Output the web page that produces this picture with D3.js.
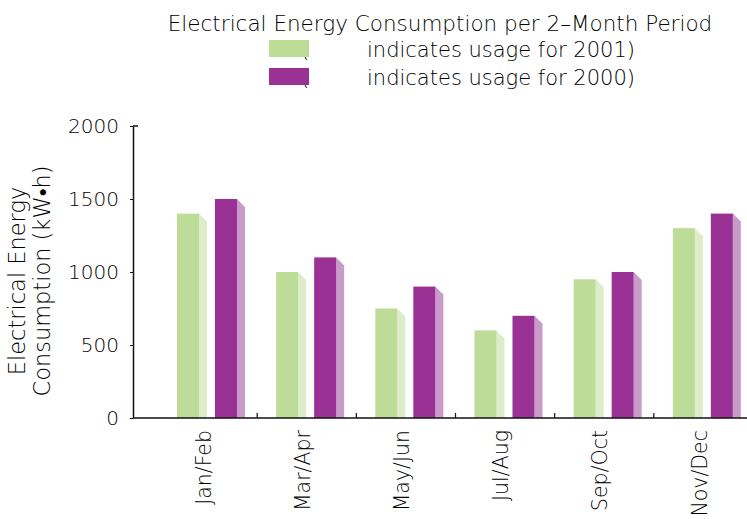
<!DOCTYPE html>
<html>
<head>
<meta charset="utf-8">
<script src="https://cdn.jsdelivr.net/npm/d3@7"></script>
<style>
  body { margin: 0; background: #fff; }
  text { font-family: "DejaVu Sans", sans-serif; font-weight: 200; fill: #000; }
</style>
</head>
<body>
<div id="chart"></div>
<script>
//// data
const periods = ['Jan/Feb', 'Mar/Apr', 'May/Jun', 'Jul/Aug', 'Sep/Oct', 'Nov/Dec'];
const years = ['2001', '2000'];
const usage2001 = [1400, 1000, 750, 600, 950, 1300];
const usage2000 = [1500, 1100, 900, 700, 1000, 1400];
const yTicks = [0, 500, 1000, 1500, 2000];

const colors = { '2001': '#bcdc97', '2000': '#9a3195' };
const sideColors = { '2001': '#ddedcb', '2000': '#c99bc9' };

const w = 747, h = 519;
const depth = 8;

const svg = d3.select('#chart').append('svg')
  .attr('width', w)
  .attr('height', h);

//// scales
const x0 = d3.scaleBand().domain(periods).range([158, 753]);
const x1 = d3.scaleBand().domain(years).range([19, 87]).paddingInner(0.21);
const y = d3.scaleLinear().domain([0, 2000]).range([418, 126]);

const rows = periods.map((p, i) => ({ period: p, '2001': usage2001[i], '2000': usage2000[i] }));

//// bars: front face plus a lighter side face
const groups = svg.selectAll('g.period')
  .data(rows)
  .enter().append('g')
  .attr('class', 'period')
  .attr('transform', d => `translate(${x0(d.period)},0)`);

const bars = groups.selectAll('g.bar')
  .data(d => years.map(yr => ({ year: yr, value: d[yr] })))
  .enter().append('g')
  .attr('class', 'bar');

const frontW = () => x1.bandwidth() - depth;

bars.append('polygon')
  .attr('points', d => {
    const xr = x1(d.year) + frontW();
    const yt = y(d.value), yb = y(0);
    return [[xr, yt], [xr + depth, yt + depth], [xr + depth, yb], [xr, yb]].join(' ');
  })
  .attr('fill', d => sideColors[d.year]);

bars.append('rect')
  .attr('x', d => x1(d.year))
  .attr('y', d => y(d.value))
  .attr('width', frontW())
  .attr('height', d => y(0) - y(d.value))
  .attr('fill', d => colors[d.year]);

//// y axis
const yAxis = svg.append('g')
  .attr('transform', 'translate(133,0)')
  .call(d3.axisLeft(y).tickValues(yTicks).tickFormat(d3.format('d'))
    .tickSizeInner(3).tickSizeOuter(0).tickPadding(11));
yAxis.select('.domain').attr('stroke', '#111').attr('stroke-width', 1.5);
yAxis.selectAll('.tick line').attr('stroke', '#111');
yAxis.selectAll('.tick text')
  .style('font-family', '"DejaVu Sans", sans-serif')
  .style('font-weight', 200)
  .style('font-size', '20px')
  .attr('fill', '#000');
svg.append('line')
  .attr('x1', 133).attr('x2', 138)
  .attr('y1', y(2000)).attr('y2', y(2000))
  .attr('stroke', '#111').attr('stroke-width', 1.5);

//// x axis
svg.append('line')
  .attr('x1', 133).attr('x2', w)
  .attr('y1', y(0)).attr('y2', y(0))
  .attr('stroke', '#111').attr('stroke-width', 1.5);
svg.selectAll('line.xtick')
  .data(periods.slice(1))
  .enter().append('line')
  .attr('class', 'xtick')
  .attr('x1', d => x0(d)).attr('x2', d => x0(d))
  .attr('y1', y(0)).attr('y2', y(0) - 5)
  .attr('stroke', '#111').attr('stroke-width', 1.2);
svg.selectAll('text.xlabel')
  .data(periods)
  .enter().append('text')
  .attr('class', 'xlabel')
  .attr('transform', d => `translate(${x0(d) + x0.bandwidth() / 2 - 4},430) rotate(-90)`)
  .attr('text-anchor', 'end')
  .attr('dy', '0.35em')
  .style('font-size', '20.5px')
  .text(d => d);

//// y title
const yTitle = svg.append('text')
  .attr('transform', 'translate(0,281) rotate(-90)')
  .attr('text-anchor', 'middle')
  .style('font-size', '22.5px');
yTitle.append('tspan').attr('x', 0).attr('y', 25).text('Electrical Energy');
yTitle.append('tspan').attr('x', 0).attr('y', 50).text('Consumption (kW•h)');

//// title and legend
svg.append('text')
  .attr('x', 440).attr('y', 31)
  .attr('text-anchor', 'middle')
  .style('font-size', '21.5px')
  .text('Electrical Energy Consumption per 2–Month Period');

const legend = svg.selectAll('g.legend')
  .data(years)
  .enter().append('g')
  .attr('class', 'legend')
  .attr('transform', (d, i) => `translate(0,${57 + i * 28})`);
legend.append('text')
  .attr('x', 301).attr('y', 0)
  .style('font-size', '21px')
  .text('(');
legend.append('rect')
  .attr('x', 269).attr('y', -17)
  .attr('width', 40).attr('height', 17)
  .attr('fill', d => colors[d]);
legend.append('text')
  .attr('x', 367).attr('y', 0)
  .style('font-size', '21px')
  .text(d => `indicates usage for ${d})`);
</script>
</body>
</html>
